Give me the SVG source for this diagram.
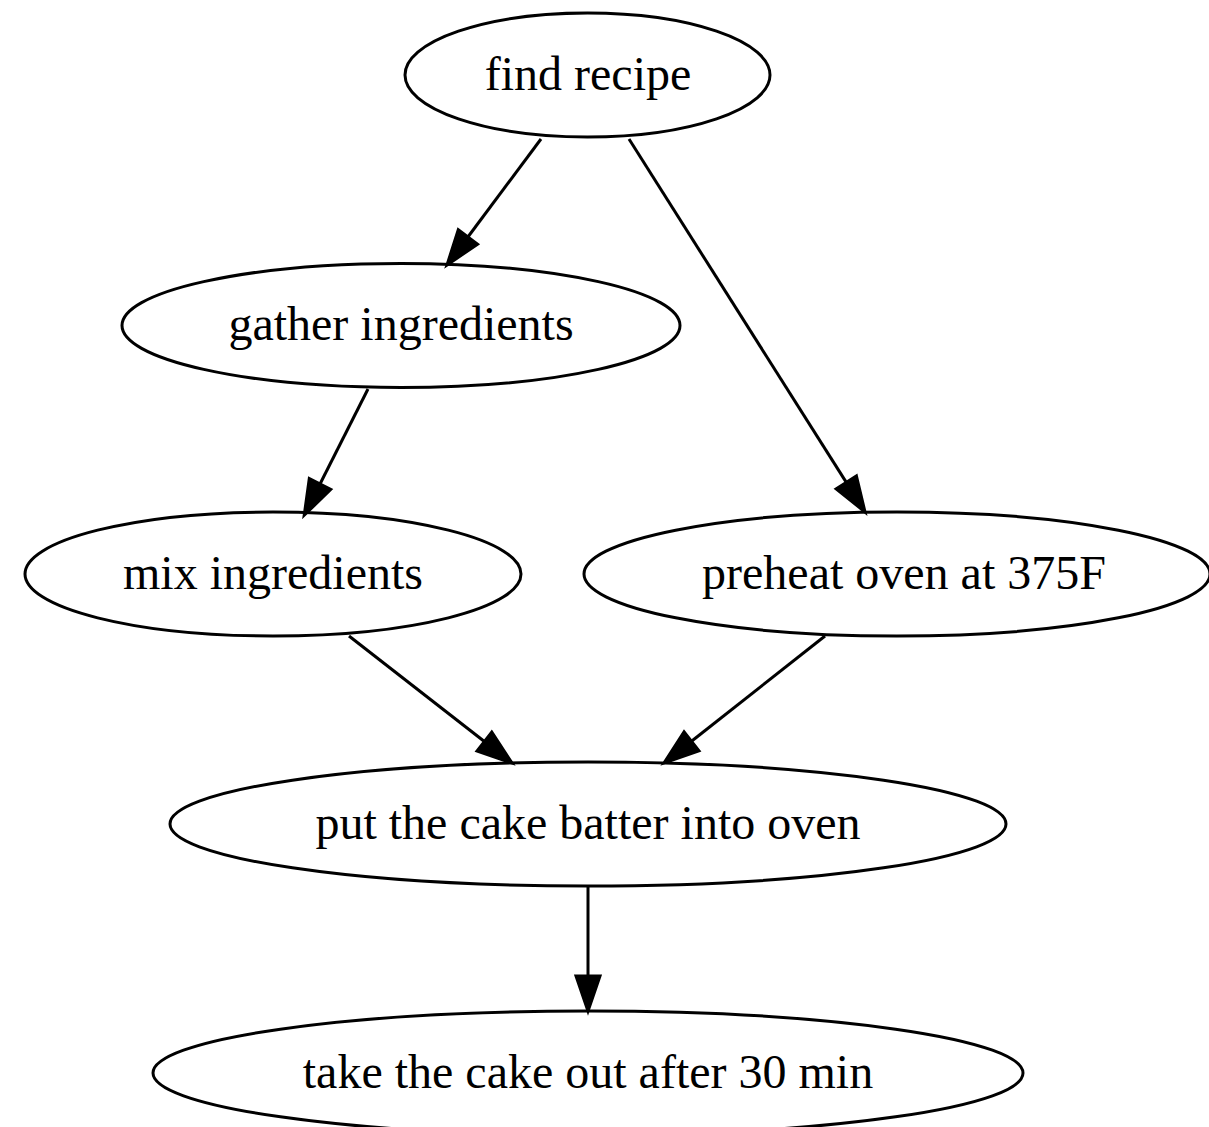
<svg xmlns="http://www.w3.org/2000/svg" width="1209" height="1127" viewBox="0 0 1209 1127">
<style>
.node ellipse{fill:none;stroke:#000;stroke-width:3}
.node text{font-family:"Liberation Serif","Times New Roman",serif;font-size:48px;fill:#000;text-anchor:middle}
.edge{fill:none;stroke:#000;stroke-width:3}
</style>
<defs>
<marker id="arr" markerUnits="userSpaceOnUse" markerWidth="40" markerHeight="30" refX="0" refY="0" viewBox="0 -15 40 30" orient="auto" overflow="visible">
<path d="M0,-12 L35,0 L0,12 z" fill="#000" stroke="#000" stroke-width="3" stroke-linejoin="miter"/>
</marker>
</defs>
<rect width="1209" height="1127" fill="#fff"/>
<g id="connectors">
<path class="edge" d="M541,139 L467.9,237" marker-end="url(#arr)"/>
<path class="edge" d="M629,139 L846.3,482.4" marker-end="url(#arr)"/>
<path class="edge" d="M368,389 L320,484" marker-end="url(#arr)"/>
<path class="edge" d="M349,636 L484.4,741.5" marker-end="url(#arr)"/>
<path class="edge" d="M825,636 L691.5,741.3" marker-end="url(#arr)"/>
<path class="edge" d="M588,886 L588,976" marker-end="url(#arr)"/>
</g>
<g id="find_recipe" class="node">
<ellipse cx="587.5" cy="75" rx="182.5" ry="62"/>
<text x="588" y="90">find recipe</text>
</g>
<g id="gather_ingredients" class="node">
<ellipse cx="401" cy="325.5" rx="279" ry="62"/>
<text x="401" y="340">gather ingredients</text>
</g>
<g id="mix_ingredients" class="node">
<ellipse cx="273" cy="574" rx="248" ry="62"/>
<text x="273" y="589">mix ingredients</text>
</g>
<g id="preheat_oven" class="node">
<ellipse cx="897" cy="574" rx="313" ry="62"/>
<text x="904" y="589">preheat oven at 375F</text>
</g>
<g id="put_cake" class="node">
<ellipse cx="588" cy="824" rx="418" ry="62"/>
<text x="588" y="839">put the cake batter into oven</text>
</g>
<g id="take_cake" class="node">
<ellipse cx="588" cy="1073" rx="435" ry="62"/>
<text x="588" y="1088">take the cake out after 30 min</text>
</g>
</svg>
